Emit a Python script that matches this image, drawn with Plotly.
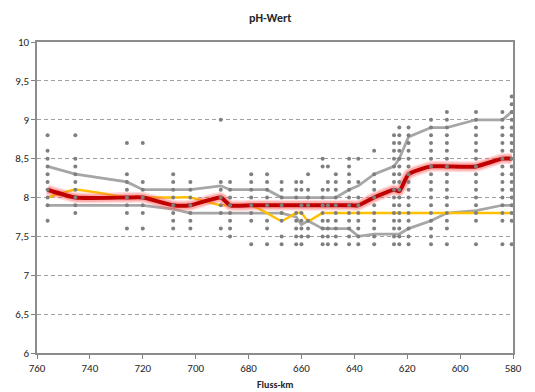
import plotly.graph_objects as go

# Station positions (Fluss-km)
km = [756, 745.5, 726, 720, 708.5, 702, 690.5, 687, 679, 673, 667.5, 662, 660, 657.5,
      652, 650, 647, 642, 638.5, 632.5, 625, 623, 619.5, 611, 605, 594, 584, 580.5]

# Individual measurements per station (pH)
def rng(hi, lo):
    n = int(round((hi - lo) * 10)) + 1
    return [round(hi - i * 0.1, 1) for i in range(n)]

samples = [
    [8.8, 8.6, 8.5, 8.4, 8.3, 8.2, 8.1, 8.0, 7.9, 7.7],
    [8.8, 8.5, 8.4, 8.3, 8.2, 8.1, 8.0, 7.9, 7.8],
    [8.7, 8.3, 8.2, 8.1, 8.0, 7.9, 7.8, 7.6],
    [8.7, 8.2, 8.1, 8.0, 7.9, 7.8, 7.6],
    [8.3, 8.2, 8.1, 8.0, 7.9, 7.8, 7.7, 7.6],
    [8.2, 8.1, 8.0, 7.9, 7.8, 7.7, 7.6],
    [9.0, 8.2, 8.1, 8.0, 7.9, 7.8, 7.6],
    [8.2, 8.1, 8.0, 7.9, 7.8, 7.7, 7.6, 7.5],
    [8.3, 8.2, 8.1, 8.0, 7.9, 7.8, 7.7, 7.4],
    [8.3, 8.2, 8.1, 8.0, 7.9, 7.7, 7.6, 7.4],
    [8.2, 8.1, 8.0, 7.9, 7.8, 7.7, 7.5, 7.4],
    [8.2, 8.1, 8.0, 7.8, 7.7, 7.6, 7.5, 7.4],
    [8.2, 8.1, 7.9, 7.8, 7.7, 7.6, 7.5, 7.4],
    [8.3, 8.1, 8.0, 7.9, 7.7, 7.6, 7.5],
    [8.5, 8.4, 8.1, 8.0, 7.9, 7.8, 7.7, 7.6, 7.5, 7.4],
    [8.4, 8.2, 8.1, 7.9, 7.7, 7.6, 7.5, 7.4],
    [8.3, 8.2, 8.1, 8.0, 7.9, 7.8, 7.7, 7.6, 7.5, 7.4],
    [8.5, 8.4, 8.3, 8.2, 8.1, 8.0, 7.9, 7.8, 7.7, 7.6, 7.5, 7.4],
    [8.5, 8.2, 8.0, 7.9, 7.8, 7.7, 7.6, 7.5, 7.4],
    [8.6, 8.3, 8.2, 8.1, 8.0, 7.9, 7.8, 7.7, 7.6, 7.5, 7.4],
    rng(8.8, 7.4),
    rng(8.9, 7.4),
    rng(8.9, 7.4),
    rng(9.0, 7.4),
    rng(9.1, 7.6) + [7.4],
    rng(9.1, 7.7) + [7.4],
    rng(9.1, 7.7) + [7.4],
    rng(9.3, 7.7) + [7.4],
]

upper = [8.4, 8.3, 8.2, 8.1, 8.1, 8.1, 8.15, 8.1, 8.1, 8.1, 8.0, 8.0, 8.0, 8.0,
         8.0, 8.0, 8.0, 8.1, 8.15, 8.3, 8.4, 8.5, 8.78, 8.9, 8.9, 9.0, 9.0, 9.1]
lower = [7.9, 7.9, 7.9, 7.9, 7.85, 7.8, 7.8, 7.8, 7.8, 7.8, 7.8, 7.75, 7.65, 7.7,
         7.6, 7.6, 7.6, 7.6, 7.5, 7.53, 7.53, 7.53, 7.6, 7.7, 7.8, 7.83, 7.9, 7.9]
median = [8.0, 8.1, 8.0, 8.0, 8.0, 8.0, 7.9, 7.9, 7.9, 7.8, 7.7, 7.8, 7.8, 7.7,
          7.8, 7.8, 7.8, 7.8, 7.8, 7.8, 7.8, 7.8, 7.8, 7.8, 7.8, 7.8, 7.8, 7.8]
mean = [8.1, 8.0, 8.0, 8.0, 7.9, 7.9, 8.0, 7.9, 7.9, 7.9, 7.9, 7.9, 7.9, 7.9,
        7.9, 7.9, 7.9, 7.9, 7.9, 8.0, 8.1, 8.08, 8.3, 8.4, 8.4, 8.4, 8.5, 8.5]

dot_x, dot_y = [], []
for k, vals in zip(km, samples):
    for v in vals:
        dot_x.append(k)
        dot_y.append(v)

fig = go.Figure()
gray = "#A6A6A6"
fig.add_trace(go.Scatter(x=km, y=upper, mode="lines", line=dict(color=gray, width=2.75)))
fig.add_trace(go.Scatter(x=km, y=lower, mode="lines", line=dict(color=gray, width=2.75)))
fig.add_trace(go.Scatter(x=km, y=median, mode="lines",
                         line=dict(color="#FFC000", width=2.5, shape="spline", smoothing=0.5)))
for w, c in [(11, "rgba(255,120,120,0.25)"), (8, "rgba(255,60,60,0.3)")]:
    fig.add_trace(go.Scatter(x=km, y=mean, mode="lines",
                             line=dict(color=c, width=w, shape="spline", smoothing=0.5)))
fig.add_trace(go.Scatter(x=km, y=mean, mode="lines",
                         line=dict(color="#C00000", width=4, shape="spline", smoothing=0.5)))
fig.add_trace(go.Scatter(x=dot_x, y=dot_y, mode="markers",
                         marker=dict(color="#7F7F7F", size=4, symbol="circle")))

font = "Calibri, Carlito, Liberation Sans, Arial, sans-serif"
fig.update_layout(
    width=535, height=392,
    margin=dict(l=37, r=22, t=42, b=39, autoexpand=False),
    paper_bgcolor="white", plot_bgcolor="white",
    showlegend=False,
    separators=",.",
    font=dict(family=font, size=11, color="#262626"),
    title=dict(text="<b>pH-Wert</b>", x=0.505, xanchor="center", y=1 - 18 / 392,
               yanchor="middle", font=dict(size=12, color="#262626")),
    annotations=[dict(text="<b>Fluss-km</b>", x=0.5, xref="paper", y=0, yref="paper",
                      xanchor="center", yanchor="top", yshift=-23, showarrow=False,
                      font=dict(size=10, color="#262626"))],
)
fig.update_xaxes(range=[760, 580], tick0=580, dtick=20, ticks="outside", ticklen=4,
                 tickcolor="#808080", showline=True, linecolor="#8C8C8C", linewidth=1.5,
                 mirror=True, showgrid=False, zeroline=False, automargin=False)
fig.update_yaxes(range=[6, 10], dtick=0.5, ticks="outside", ticklen=4, tickcolor="#808080",
                 showline=True, linecolor="#8C8C8C", linewidth=1.5, mirror=True,
                 showgrid=True, gridcolor="#A0A0A0", griddash="4px,3px", gridwidth=1,
                 zeroline=False, automargin=False)

fig.write_html("out.html", config={"displayModeBar": False},
               post_script="document.body.style.margin='0';")
